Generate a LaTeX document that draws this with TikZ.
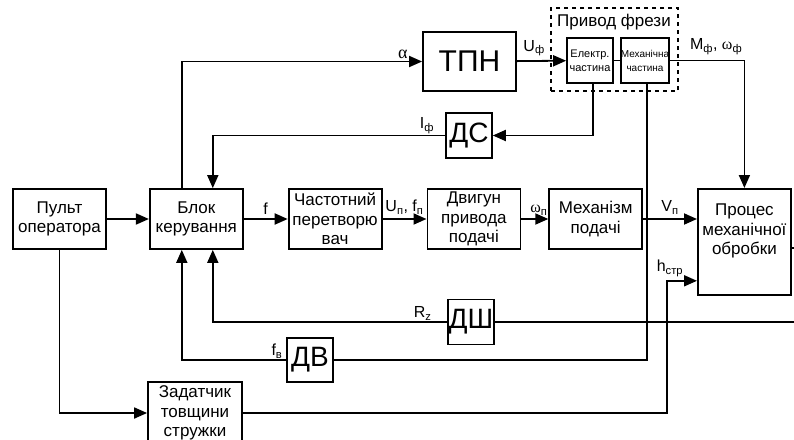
\documentclass[tikz,border=0pt]{standalone}
\usepackage{fontspec}
\setmainfont{Liberation Sans}
\newfontfamily\grk{Liberation Serif}
\usetikzlibrary{arrows.meta, positioning, calc}

\begin{document}
\begin{tikzpicture}[
    x=1pt, y=-1pt,
    >={Triangle[length=13pt,width=11pt]},
    font=\fontsize{17}{19.5}\selectfont,
    % стилі блоків
    block/.style={rectangle, draw=black, line width=1.8pt, minimum width=93pt, minimum height=60pt, align=center, inner sep=1pt},
    part/.style={rectangle, draw=black, line width=1.8pt, minimum width=46pt, minimum height=45pt, align=center, inner sep=0pt, font=\fontsize{11}{14}\selectfont},
    sensor/.style={rectangle, draw=black, line width=1.6pt, minimum width=46pt, minimum height=45pt, inner sep=0pt, font=\fontsize{28}{28}\selectfont},
    dashbox/.style={rectangle, draw=black, line width=2pt, dash pattern=on 4pt off 4pt, minimum width=127pt, minimum height=83pt},
    lbl/.style={inner sep=1pt, font=\fontsize{16}{16}\selectfont},
    arrow/.style={line width=1.8pt, ->},
    line/.style={line width=1.8pt}
]
    \useasboundingbox (0,0) rectangle (794,439);

    % --- 1. БЛОКИ ---
    \node[block] (pult) at (59.5,219) {Пульт\\оператора};
    \node[block, right=42pt of pult] (blok) {Блок\\керування};
    \node[block, right=44pt of blok] (chast) {Частотний\\перетворю\\вач};
    \node[block, right=44pt of chast] (dvyg) {Двигун\\привода\\подачі};
    \node[block, right=27pt of dvyg] (mekh) {Механізм\\подачі};
    \node[block, minimum height=106pt, anchor=north west] (proces) at (697,188) {Процес\\механічної\\обробки\\[6pt]};

    \node[block, minimum height=59pt, font=\fontsize{30}{30}\selectfont] (tpn) at (469.5,61.5) {ТПН};

    % Привод фрези
    \node[dashbox] (privod) at (614.5,49.5) {};
    \node (privodlbl) at (614,22) {Привод фрези};
    \node[part] (elektr) at (590,60.5) {Електр.\\частина};
    \node[part, font=\fontsize{10}{14}\selectfont] (mekhch) at (645,60.5) {Механічна\\частина};

    % давачі
    \node[sensor] (ds) at (469,135.5) {ДС};
    \node[sensor, line width=1.2pt] (dsh) at (471,322) {ДШ};
    \node[sensor, line width=1.2pt, minimum height=44pt] (dv) at (310,360) {ДВ};

    \node[block, minimum height=62pt, minimum width=94pt] (zadat) at (195,413) {Задатчик\\товщини\\стружки};

    % вільні кінці біля правого краю
    \coordinate (vyhid) at (800,248);
    \coordinate (shum) at (800,322);

    % --- 2. ЗВ'ЯЗКИ ---
    \draw[arrow] (pult) -- (blok);
    \draw[arrow] (blok) -- node[lbl, above=3pt] {f} (chast);
    \draw[arrow] (chast) -- node[lbl, above=3pt] {U\textsubscript{п}, f\textsubscript{п}} (dvyg);
    \draw[arrow] (dvyg) -- node[lbl, above=2pt, pos=0.65] {{\grk ω}\textsubscript{п}} (mekh);
    \draw[arrow] (mekh.east) -- node[lbl, above=3pt] {V\textsubscript{п}} (mekh.east -| proces.west);

    % контур привода фрези
    \draw[arrow] ([xshift=-14.5pt]blok.north) |- node[lbl, above=1pt, pos=0.96, font=\fontsize{18}{18}\selectfont] {\grk α} (tpn.west);
    \draw[arrow] (tpn) -- node[lbl, above=3pt, pos=0.35] {U\textsubscript{ф}} (elektr);
    \draw[line] (elektr) -- (mekhch);
    \draw[arrow] (mekhch.east) -| node[lbl, above=4pt, pos=0.31] {M\textsubscript{ф}, {\grk ω}\textsubscript{ф}} (proces.north);

    % зворотні зв'язки
    \draw[arrow] ([xshift=3pt]elektr.south) |- (ds.east);
    \draw[arrow] (ds.west) -| node[lbl, anchor=south east, pos=0.02] {I\textsubscript{ф}} ([xshift=16.5pt]blok.north);
    \draw[line] (shum) -- (dsh.east);
    \draw[arrow] (dsh.west) -| node[lbl, anchor=south east, pos=0.03] {R\textsubscript{z}} ([xshift=16.5pt]blok.south);
    \draw[line] ([xshift=2pt]mekhch.south) |- (dv.east);
    \draw[arrow] (dv.west) -| node[lbl, anchor=south east, pos=0.01] {f\textsubscript{в}} ([xshift=-14.5pt]blok.south);

    % задана товщина стружки
    \draw[arrow] (pult.south) |- (zadat.west);
    \draw[arrow] (zadat.east) -| ([xshift=-30pt, yshift=15pt]proces.south west) -- node[lbl, above=2pt, pos=0.1] {h\textsubscript{стр}} ([yshift=15pt]proces.south west);

    % вихід процесу
    \draw[line] (proces.east |- vyhid) -- (vyhid);

\end{tikzpicture}
\end{document}
